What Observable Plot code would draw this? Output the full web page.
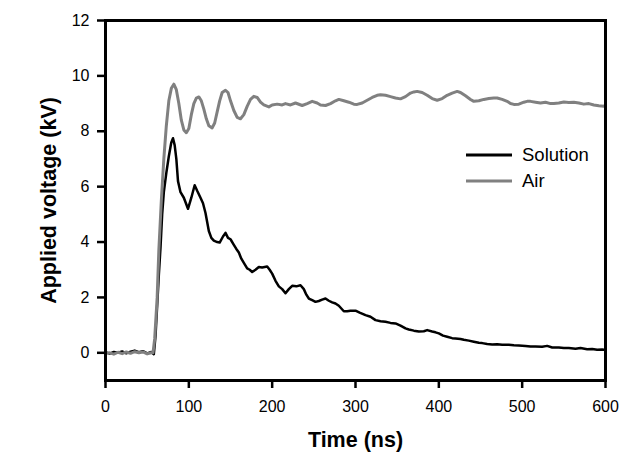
<!DOCTYPE html>
<html>
<head>
<meta charset="utf-8">
<script src="https://cdn.jsdelivr.net/npm/d3@7"></script>
<script src="https://cdn.jsdelivr.net/npm/@observablehq/plot@0.6"></script>
<style>
html, body { margin: 0; padding: 0; background: #fff; }
#wrap { position: relative; width: 639px; height: 466px; font-family: Arial, "Liberation Sans", sans-serif; }
#legend { position: absolute; left: 0; top: 0; pointer-events: none; }
</style>
</head>
<body>
<div id="wrap"></div>
<script>
// ---- Data ----
const xTicks = [0, 100, 200, 300, 400, 500, 600];
const yTicks = [0, 2, 4, 6, 8, 10, 12];
const xLabel = "Time (ns)";
const yLabel = "Applied voltage (kV)";
const seriesNames = ["Solution", "Air"];
const seriesColors = ["#000000", "#808080"];

const solutionTime = [0, 5, 10, 15, 20, 25, 30, 35, 40, 45, 50, 55, 58, 60, 62, 64, 66, 68, 70, 73, 76, 79, 81, 83, 85, 87, 90, 94, 99, 103, 107, 110, 114, 117, 120, 124, 127, 130, 134, 137, 141, 144, 147, 150, 154, 157, 160, 163, 166, 170, 173, 176, 180, 184, 188, 194, 197, 200, 204, 208, 212, 216, 220, 224, 229, 234, 238, 241, 244, 248, 252, 256, 260, 264, 268, 272, 276, 280, 283, 286, 290, 294, 300, 305, 312, 318, 324, 330, 336, 342, 348, 354, 360, 364, 370, 376, 382, 386, 392, 396, 400, 405, 410, 416, 420, 426, 430, 436, 442, 448, 452, 458, 464, 470, 476, 484, 490, 496, 504, 510, 516, 524, 530, 536, 544, 550, 556, 564, 570, 578, 584, 590, 596, 600];
const solutionVoltage = [0.02, -0.03, 0.03, 0.0, 0.05, -0.02, 0.04, 0.08, 0.02, 0.06, -0.02, 0.03, -0.05, 0.6, 1.7, 2.8, 3.8, 5.0, 5.8, 6.5, 7.1, 7.6, 7.75, 7.5, 7.0, 6.2, 5.8, 5.6, 5.2, 5.6, 6.05, 5.85, 5.6, 5.4, 5.05, 4.4, 4.15, 4.05, 4.0, 3.98, 4.2, 4.33, 4.15, 4.1, 3.9, 3.75, 3.62, 3.4, 3.25, 3.05, 3.0, 2.92, 3.0, 3.1, 3.08, 3.12, 3.0, 2.86, 2.6, 2.4, 2.3, 2.15, 2.3, 2.42, 2.4, 2.44, 2.3, 2.1, 1.96, 1.9, 1.84, 1.87, 1.92, 1.96, 1.88, 1.82, 1.78, 1.7, 1.6, 1.5, 1.5, 1.52, 1.52, 1.45, 1.36, 1.3, 1.18, 1.14, 1.12, 1.08, 1.06, 0.98, 0.88, 0.84, 0.8, 0.77, 0.78, 0.82, 0.77, 0.74, 0.7, 0.62, 0.58, 0.53, 0.52, 0.5, 0.47, 0.44, 0.4, 0.36, 0.35, 0.32, 0.3, 0.31, 0.29, 0.29, 0.27, 0.26, 0.25, 0.23, 0.23, 0.22, 0.25, 0.19, 0.19, 0.17, 0.17, 0.15, 0.17, 0.13, 0.14, 0.11, 0.12, 0.1];

const airTime = [0, 5, 10, 15, 20, 25, 30, 35, 40, 45, 50, 55, 57, 59, 62, 64, 67, 70, 73, 76, 79, 82, 85, 88, 91, 94, 97, 100, 103, 106, 109, 112, 115, 118, 121, 124, 128, 131, 134, 137, 140, 144, 147, 150, 154, 158, 162, 166, 170, 174, 178, 182, 186, 190, 196, 200, 206, 212, 216, 222, 228, 236, 242, 248, 254, 258, 264, 270, 276, 280, 286, 292, 298, 302, 308, 314, 320, 326, 330, 336, 342, 348, 354, 360, 366, 370, 374, 380, 386, 392, 398, 404, 410, 416, 422, 426, 432, 438, 442, 448, 454, 460, 466, 470, 476, 482, 486, 490, 496, 502, 506, 510, 516, 522, 528, 534, 538, 544, 550, 556, 562, 568, 574, 580, 586, 592, 598, 600];
const airVoltage = [-0.02, 0.0, -0.05, 0.02, -0.03, 0.03, -0.02, 0.04, 0.0, 0.03, -0.04, 0.0, 0.0, 0.5, 2.0, 3.7, 5.5, 7.0, 8.2, 9.1, 9.55, 9.7, 9.5, 9.0, 8.4, 8.05, 7.95, 8.1, 8.6, 9.0, 9.2, 9.24, 9.1, 8.8, 8.45, 8.2, 8.12, 8.3, 8.7, 9.1, 9.4, 9.48, 9.4, 9.1, 8.75, 8.5, 8.45, 8.6, 8.9, 9.15, 9.26, 9.22, 9.05, 8.95, 8.88, 8.95, 8.98, 8.95, 9.0, 8.95, 9.02, 8.93, 9.0, 9.08, 9.02, 8.95, 8.93, 9.0, 9.1, 9.15, 9.1, 9.05, 8.98, 8.97, 9.02, 9.12, 9.22, 9.3, 9.32, 9.3, 9.25, 9.2, 9.17, 9.25, 9.38, 9.42, 9.44, 9.4, 9.3, 9.18, 9.12, 9.18, 9.3, 9.38, 9.44, 9.4, 9.28, 9.15, 9.08, 9.1, 9.15, 9.18, 9.2, 9.2, 9.15, 9.08, 9.0, 8.97, 8.98, 9.05, 9.08, 9.08, 9.05, 9.02, 9.05, 9.0, 9.0, 9.02, 9.06, 9.04, 9.05, 9.02, 8.98, 9.0, 8.95, 8.92, 8.9, 8.95];

// ---- Build tables ----
const solution = solutionTime.map((t, i) => ({t, v: solutionVoltage[i]}));
const air = airTime.map((t, i) => ({t, v: airVoltage[i]}));

const font = 'Arial, "Liberation Sans", sans-serif';

const chart = Plot.plot({
  width: 639,
  height: 466,
  marginLeft: 105,
  marginRight: 34,
  marginTop: 20,
  marginBottom: 86,
  style: {fontFamily: font, fontSize: "16px", color: "#000", background: "#fff", overflow: "visible"},
  x: {domain: [0, 600]},
  y: {domain: [-1, 12]},
  marks: [
    Plot.line(solution, {x: "t", y: "v", stroke: seriesColors[0], strokeWidth: 2.5, strokeLinejoin: "round"}),
    Plot.line(air, {x: "t", y: "v", stroke: seriesColors[1], strokeWidth: 3, strokeLinejoin: "round"}),
    Plot.frame({stroke: "#000", strokeWidth: 3}),
    Plot.axisX({ticks: xTicks, tickSize: 8, tickPadding: 12, strokeWidth: 2.5, fontSize: 16, label: null}),
    Plot.axisY({ticks: yTicks, tickSize: 8, tickPadding: 8, strokeWidth: 2.5, fontSize: 16, label: null}),
    Plot.text([xLabel], {frameAnchor: "bottom", lineAnchor: "middle", textAnchor: "middle", dy: 59.5, fontSize: 21.5, fontWeight: "bold", fill: "#000"}),
    Plot.text([yLabel], {frameAnchor: "left", lineAnchor: "middle", textAnchor: "middle", rotate: -90, dx: -56.5, fontSize: 21.5, fontWeight: "bold", fill: "#000"})
  ]
});

const wrap = document.getElementById("wrap");
wrap.appendChild(chart);

// ---- Legend (inside the plot area, upper right) ----
const ns = "http://www.w3.org/2000/svg";
const leg = document.createElementNS(ns, "svg");
leg.setAttribute("id", "legend");
leg.setAttribute("width", 639);
leg.setAttribute("height", 466);
seriesNames.forEach((name, i) => {
  const y = 155 + i * 26;
  const ln = document.createElementNS(ns, "line");
  ln.setAttribute("x1", 466); ln.setAttribute("x2", 512);
  ln.setAttribute("y1", y); ln.setAttribute("y2", y);
  ln.setAttribute("stroke", seriesColors[i]);
  ln.setAttribute("stroke-width", 3);
  leg.appendChild(ln);
  const tx = document.createElementNS(ns, "text");
  tx.setAttribute("x", 522); tx.setAttribute("y", y);
  tx.setAttribute("dy", "0.35em");
  tx.setAttribute("font-family", font);
  tx.setAttribute("font-size", "18.5px");
  tx.setAttribute("fill", "#000");
  tx.textContent = name;
  leg.appendChild(tx);
});
wrap.appendChild(leg);
</script>
</body>
</html>
